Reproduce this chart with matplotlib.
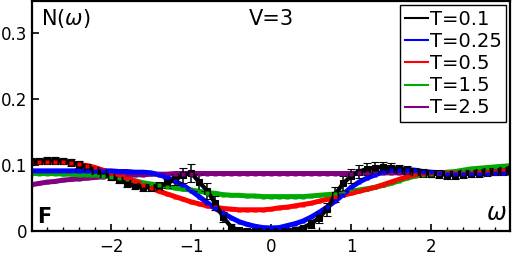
import numpy as np
import matplotlib
matplotlib.use("Agg")
import matplotlib.pyplot as plt
from matplotlib.lines import Line2D

# omega grid (step 0.1 from -3 to 3)
omega = np.round(np.arange(-30, 31) / 10.0, 2)

n_t01 = [0.105, 0.106, 0.107, 0.107, 0.106, 0.104, 0.101, 0.097, 0.092, 0.087,
         0.082, 0.077, 0.072, 0.068, 0.066, 0.066, 0.068, 0.072, 0.078, 0.084,
         0.088, 0.074, 0.061, 0.042, 0.021, 0.006, 0.001, 0.000, 0.000, 0.000,
         0.000, 0.000, 0.000, 0.002, 0.005, 0.011, 0.020, 0.033, 0.055, 0.072,
         0.083, 0.090, 0.094, 0.096, 0.097, 0.096, 0.094, 0.092, 0.090, 0.088,
         0.087, 0.086, 0.085, 0.085, 0.086, 0.087, 0.088, 0.089, 0.090, 0.091,
         0.092]
err_t01 = [0.005, 0.005, 0.005, 0.005, 0.005, 0.005, 0.005, 0.005, 0.005, 0.005,
           0.005, 0.005, 0.005, 0.005, 0.005, 0.005, 0.006, 0.007, 0.009, 0.012,
           0.014, 0.013, 0.012, 0.011, 0.008, 0.005, 0.003, 0.001, 0.001, 0.001,
           0.001, 0.001, 0.001, 0.001, 0.003, 0.006, 0.008, 0.010, 0.011, 0.011,
           0.011, 0.010, 0.009, 0.008, 0.007, 0.007, 0.006, 0.006, 0.006, 0.006,
           0.006, 0.006, 0.006, 0.006, 0.006, 0.006, 0.006, 0.006, 0.006, 0.006,
           0.006]
n_t025 = [0.091, 0.091, 0.091, 0.091, 0.091, 0.091, 0.091, 0.091, 0.091, 0.091,
          0.091, 0.090, 0.090, 0.089, 0.089, 0.088, 0.085, 0.081, 0.075, 0.069,
          0.061, 0.052, 0.043, 0.034, 0.027, 0.020, 0.014, 0.010, 0.007, 0.005,
          0.0045, 0.005, 0.008, 0.011, 0.015, 0.021, 0.028, 0.036, 0.045, 0.055,
          0.066, 0.074, 0.080, 0.085, 0.089, 0.092, 0.093, 0.093, 0.092, 0.090,
          0.089, 0.088, 0.087, 0.087, 0.087, 0.087, 0.087, 0.087, 0.088, 0.088,
          0.088]
n_t05 = [0.105, 0.105, 0.105, 0.105, 0.104, 0.103, 0.101, 0.099, 0.096, 0.092,
         0.088, 0.084, 0.080, 0.075, 0.070, 0.065, 0.060, 0.056, 0.052, 0.048,
         0.044, 0.041, 0.038, 0.036, 0.034, 0.033, 0.032, 0.032, 0.032, 0.032,
         0.033, 0.035, 0.036, 0.038, 0.040, 0.042, 0.045, 0.048, 0.051, 0.054,
         0.057, 0.060, 0.063, 0.066, 0.070, 0.074, 0.078, 0.082, 0.085, 0.087,
         0.088, 0.088, 0.088, 0.088, 0.088, 0.088, 0.089, 0.090, 0.091, 0.092,
         0.093]
n_t15 = [0.087, 0.087, 0.087, 0.087, 0.086, 0.086, 0.085, 0.085, 0.084, 0.083,
         0.082, 0.080, 0.078, 0.076, 0.073, 0.071, 0.069, 0.067, 0.065, 0.063,
         0.062, 0.060, 0.058, 0.057, 0.055, 0.054, 0.054, 0.053, 0.053, 0.052,
         0.052, 0.052, 0.052, 0.052, 0.052, 0.053, 0.054, 0.055, 0.056, 0.058,
         0.060, 0.062, 0.064, 0.066, 0.069, 0.072, 0.076, 0.080, 0.083, 0.085,
         0.087, 0.088, 0.089, 0.090, 0.092, 0.094, 0.095, 0.096, 0.097, 0.098,
         0.099]
n_t25 = [0.070, 0.072, 0.074, 0.075, 0.077, 0.078, 0.079, 0.080, 0.081, 0.082,
         0.083, 0.084, 0.084, 0.085, 0.085, 0.086, 0.086, 0.086, 0.087, 0.087,
         0.087, 0.087, 0.087, 0.087, 0.087, 0.087, 0.087, 0.087, 0.087, 0.087,
         0.087, 0.087, 0.087, 0.087, 0.087, 0.087, 0.087, 0.087, 0.087, 0.087,
         0.087, 0.088, 0.088, 0.088, 0.088, 0.088, 0.088, 0.088, 0.088, 0.088,
         0.088, 0.088, 0.088, 0.088, 0.088, 0.088, 0.088, 0.088, 0.088, 0.088,
         0.088]

labels = ["T=0.1", "T=0.25", "T=0.5", "T=1.5", "T=2.5"]
colors = ["black", "blue", "red", "#00aa00", "purple"]

fig = plt.figure(figsize=(5.12, 2.56), dpi=100)
ax = fig.add_axes([0.0625, 0.098, 0.934, 0.897])

colored = [(n_t25, colors[4]), (n_t15, colors[3]), (n_t05, colors[2]), (n_t025, colors[1])]

# colored bands underneath
for y, c in colored:
    ax.plot(omega, y, color=c, lw=3.6, solid_capstyle="butt", zorder=2)

# T=0.1 with error bars, thick black band
ax.plot(omega, n_t01, color="black", lw=3.0, zorder=3)
ax.errorbar(omega, n_t01, yerr=err_t01, fmt="s", ms=5.0, mfc="black", mec="black", mew=0.8,
            ecolor="black", elinewidth=1.1, capsize=2.6, capthick=1.1, zorder=3)

# small square markers of the colored series on top
for y, c in colored:
    ax.plot(omega, y, ls="none", marker="s", ms=2.6, mec="none", mfc=c, zorder=4)

ax.set_xlim(-2.99, 2.99)
ax.set_ylim(0, 0.348)
ax.set_xticks([-2, -1, 0, 1, 2])
ax.set_xticklabels(["\u22122", "\u22121", "0", "1", "2"])
ax.set_xticks(np.arange(-2.8, 3.0, 0.2), minor=True)
ax.set_yticks([0, 0.1, 0.2, 0.3])
ax.set_yticklabels(["0", "0.1", "0.2", "0.3"])
ax.tick_params(axis="both", which="major", direction="in", length=5, width=1.2, labelsize=12)
ax.tick_params(axis="x", which="major", pad=5)
ax.tick_params(axis="x", which="minor", direction="in", length=3, width=1.0)
for s in ax.spines.values():
    s.set_linewidth(1.6)
    s.set_zorder(5)

ax.text(0.019, 0.895, r"N$(\omega)$", transform=ax.transAxes, fontsize=15, va="baseline", ha="left")
ax.text(0.5, 0.895, "V=3", transform=ax.transAxes, fontsize=15, va="baseline", ha="center")
ax.text(0.01, 0.035, "F", transform=ax.transAxes, fontsize=15, fontweight="bold", va="baseline", ha="left")
ax.text(0.993, 0.048, r"$\omega$", transform=ax.transAxes, fontsize=17, va="baseline", ha="right")

handles = [Line2D([], [], color=c, lw=1.5) for c in colors]
leg = ax.legend(handles, labels, loc="upper right", fontsize=14, handlelength=1.15,
                handletextpad=0.1, labelspacing=0.16, borderpad=0.25, borderaxespad=0.2,
                fancybox=False, framealpha=1.0)
leg.get_frame().set_edgecolor("black")
leg.get_frame().set_linewidth(1.0)
leg.set_zorder(6)

fig.savefig("out.png", dpi=100)
